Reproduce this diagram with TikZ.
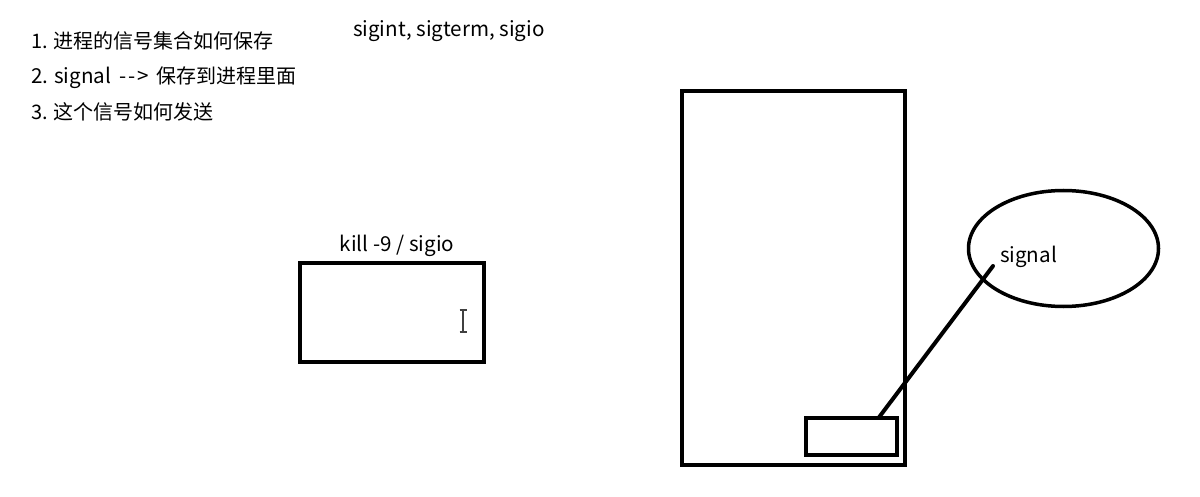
\documentclass[tikz,border=0pt]{standalone}
\usepackage{fontspec}
\setmainfont{Noto Sans CJK SC}[Ligatures=NoCommon]
\usetikzlibrary{shapes.geometric}
\begin{document}
\begin{tikzpicture}[x=1pt,y=-1pt,
  box/.style={draw=black,line width=4pt,rectangle,inner sep=0pt,outer sep=0pt},
  oval/.style={draw=black,line width=3.5pt,ellipse,inner sep=0pt,outer sep=0pt},
  lbl/.style={inner sep=0pt,outer sep=0pt,font=\fontsize{20}{24}\selectfont,text=black},
  wire/.style={line width=4pt,line cap=round}]
\useasboundingbox[fill=white] (0,0) rectangle (1200,497);
% notes
\node[lbl,anchor=base west] (n1) at (31,49) {1. 进程的信号集合如何保存};
\node[lbl,anchor=base west] (n2) at (31,84) {{\fontsize{20.6}{24}\selectfont 2. signal \,-\kern2pt-\kern2pt>\,} 保存到进程里面};
\node[lbl,anchor=base west] (n3) at (31,120) {3. 这个信号如何发送};
\node[lbl,anchor=base west,font=\fontsize{20.6}{24}\selectfont] (sigs) at (353,37) {sigint, sigterm, sigio};
% left box
\node[box,minimum width=184pt,minimum height=99pt] (kbox) at (392,312.5) {};
\node[lbl,anchor=base,font=\fontsize{20.6}{24}\selectfont] (ktxt) at (397,252) {kill -9 / sigio};
% text cursor
\draw[line width=1.2pt,black!75] (463,310) -- (463,332);
\draw[line width=1.2pt,black!75] (459.5,310) -- (466.5,310) (459.5,332) -- (466.5,332);
% process box
\node[box,minimum width=223pt,minimum height=374pt] (proc) at (793.5,278) {};
\node[box,line width=3.8pt,minimum width=91pt,minimum height=37pt] (slot) at (851.5,436.5) {};
% ellipse
\node[oval,minimum width=190pt,minimum height=116pt] (ell) at (1063.5,248.5) {};
\node[lbl,anchor=base west,font=\fontsize{20.6}{24}\selectfont] (stxt) at (1000,262) {signal};
\coordinate (tip) at (993,266);
\draw[wire] (tip) -- ([xshift=27pt]slot.north);
\end{tikzpicture}
\end{document}
